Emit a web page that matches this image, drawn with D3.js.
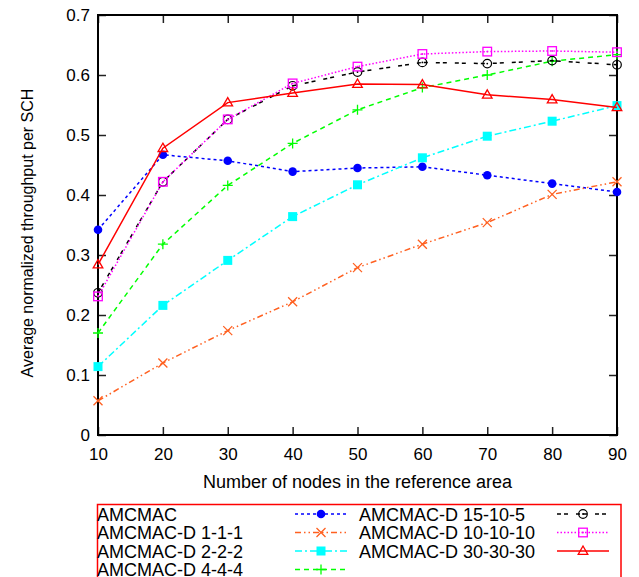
<!DOCTYPE html>
<html>
<head>
<meta charset="utf-8">
<script src="https://cdn.jsdelivr.net/npm/d3@7"></script>
<style>
  body { margin: 0; background: #fff; }
  text { font-family: "Liberation Sans", Arial, Helvetica, sans-serif; fill: #000; }
</style>
</head>
<body>
<div id="chart"></div>
<script>
// number of nodes (x values)
var nodes = [10, 20, 30, 40, 50, 60, 70, 80, 90];

// average normalized throughput per SCH
var amcmac     = [0.342, 0.467, 0.457, 0.439, 0.445, 0.447, 0.433, 0.419, 0.405];
var amcmacD111 = [0.057, 0.120, 0.174, 0.222, 0.279, 0.318, 0.354, 0.401, 0.422];
var amcmacD222 = [0.114, 0.216, 0.291, 0.364, 0.417, 0.462, 0.498, 0.523, 0.549];
var amcmacD444 = [0.170, 0.318, 0.416, 0.486, 0.542, 0.579, 0.600, 0.623, 0.634];
var amcmacD15105  = [0.237, 0.422, 0.526, 0.582, 0.605, 0.621, 0.619, 0.624, 0.617];
var amcmacD101010 = [0.231, 0.422, 0.526, 0.586, 0.614, 0.635, 0.639, 0.640, 0.638];
var amcmacD303030 = [0.284, 0.478, 0.554, 0.570, 0.585, 0.584, 0.567, 0.559, 0.546];

var seriesNames = ["AMCMAC", "AMCMAC-D 1-1-1", "AMCMAC-D 2-2-2", "AMCMAC-D 4-4-4",
                   "AMCMAC-D 15-10-5", "AMCMAC-D 10-10-10", "AMCMAC-D 30-30-30"];
var yTicks = [0, 0.1, 0.2, 0.3, 0.4, 0.5, 0.6, 0.7];
var xTicks = [10, 20, 30, 40, 50, 60, 70, 80, 90];

const width = 639, height = 577;
const plot = {left: 98, right: 617, top: 15, bottom: 435};

// style for each series: colour, dash pattern, marker
var styles = [
  {color: "#0000ff", dash: "3,3",              mark: "dot"},
  {color: "#ff6020", dash: "6,3,1.5,3,1.5,3",  mark: "x"},
  {color: "#00ffff", dash: "7,3,2,3",          mark: "fsquare"},
  {color: "#00ff00", dash: "5,4",              mark: "plus"},
  {color: "#000000", dash: "4,3,4,8",          mark: "ocircle"},
  {color: "#ff00ff", dash: "1.5,2",            mark: "osquare"},
  {color: "#ff0000", dash: null,               mark: "triangle"}
];

var allValues = [amcmac, amcmacD111, amcmacD222, amcmacD444, amcmacD15105, amcmacD101010, amcmacD303030];

var x = d3.scaleLinear().domain([10, 90]).range([plot.left, plot.right]);
var y = d3.scaleLinear().domain([0, 0.7]).range([plot.bottom, plot.top]);

var svg = d3.select("#chart").append("svg")
    .attr("width", width)
    .attr("height", height);

// axes with ticks pointing inwards (mirrored on top and right)
function styleAxis(g) {
  g.select(".domain").remove();
  g.selectAll(".tick line").attr("stroke", "#222").attr("stroke-width", 1.5);
  g.selectAll(".tick text").style("font-size", "17px").attr("fill", "#000");
}

svg.append("g")
    .attr("transform", "translate(0," + plot.bottom + ")")
    .call(d3.axisBottom(x).tickValues(xTicks).tickSize(-8).tickPadding(13))
    .call(styleAxis);

svg.append("g")
    .attr("transform", "translate(0," + plot.top + ")")
    .call(d3.axisTop(x).tickValues(xTicks).tickSize(-8).tickFormat(""))
    .call(styleAxis);

svg.append("g")
    .attr("transform", "translate(" + plot.left + ",0)")
    .call(d3.axisLeft(y).tickValues(yTicks).tickSize(-8).tickPadding(8).tickFormat(d3.format("")))
    .call(styleAxis);

svg.append("g")
    .attr("transform", "translate(" + plot.right + ",0)")
    .call(d3.axisRight(y).tickValues(yTicks).tickSize(-8).tickFormat(""))
    .call(styleAxis);

// border
svg.append("rect")
    .attr("x", plot.left)
    .attr("y", plot.top)
    .attr("width", plot.right - plot.left)
    .attr("height", plot.bottom - plot.top)
    .attr("fill", "none")
    .attr("stroke", "#000")
    .attr("stroke-width", 2);

// axis titles
svg.append("text")
    .attr("x", (plot.left + plot.right) / 2)
    .attr("y", 488)
    .attr("text-anchor", "middle")
    .style("font-size", "18px")
    .text("Number of nodes in the reference area");

svg.append("text")
    .attr("transform", "translate(33,233) rotate(-90)")
    .attr("text-anchor", "middle")
    .style("font-size", "16px")
    .text("Average normalized throughput per SCH");

// markers
function drawMarker(g, type, color, cx, cy) {
  if (type == "dot") {
    g.append("circle").attr("cx", cx).attr("cy", cy).attr("r", 4.3).attr("fill", color);
  } else if (type == "x") {
    g.append("path")
      .attr("d", "M" + (cx - 4.5) + "," + (cy - 4.5) + "L" + (cx + 4.5) + "," + (cy + 4.5) +
                 "M" + (cx - 4.5) + "," + (cy + 4.5) + "L" + (cx + 4.5) + "," + (cy - 4.5))
      .attr("stroke", color).attr("stroke-width", 1.3).attr("fill", "none");
  } else if (type == "fsquare") {
    g.append("rect").attr("x", cx - 4.5).attr("y", cy - 4.5).attr("width", 9).attr("height", 9)
      .attr("fill", color);
  } else if (type == "plus") {
    g.append("path")
      .attr("d", "M" + (cx - 5) + "," + cy + "L" + (cx + 5) + "," + cy +
                 "M" + cx + "," + (cy - 5) + "L" + cx + "," + (cy + 5))
      .attr("stroke", color).attr("stroke-width", 1.3).attr("fill", "none");
  } else if (type == "ocircle") {
    g.append("circle").attr("cx", cx).attr("cy", cy).attr("r", 4.3)
      .attr("fill", "none").attr("stroke", color).attr("stroke-width", 1.2);
    g.append("circle").attr("cx", cx).attr("cy", cy).attr("r", 0.9).attr("fill", color);
  } else if (type == "osquare") {
    g.append("rect").attr("x", cx - 4.3).attr("y", cy - 4.3).attr("width", 8.6).attr("height", 8.6)
      .attr("fill", "none").attr("stroke", color).attr("stroke-width", 1.3);
    g.append("circle").attr("cx", cx).attr("cy", cy).attr("r", 0.9).attr("fill", color);
  } else if (type == "triangle") {
    g.append("path")
      .attr("d", "M" + cx + "," + (cy - 5) + "L" + (cx + 4.8) + "," + (cy + 3.3) +
                 "L" + (cx - 4.8) + "," + (cy + 3.3) + "Z")
      .attr("fill", "none").attr("stroke", color).attr("stroke-width", 1.3);
  }
}

var line = d3.line()
    .x(function(d) { return x(d.n); })
    .y(function(d) { return y(d.v); });

for (var i = 0; i < allValues.length; i++) {
  var pts = nodes.map(function(n, j) { return {n: n, v: allValues[i][j]}; });
  var s = styles[i];
  var g = svg.append("g");
  g.append("path")
      .attr("d", line(pts))
      .attr("fill", "none")
      .attr("stroke", s.color)
      .attr("stroke-width", 1.5)
      .attr("stroke-dasharray", s.dash);
  for (var j = 0; j < pts.length; j++) {
    drawMarker(g, s.mark, s.color, x(pts[j].n), y(pts[j].v));
  }
}

// legend
var legend = svg.append("g");
legend.append("rect")
    .attr("x", 97.5)
    .attr("y", 504.5)
    .attr("width", 523.5)
    .attr("height", 90)
    .attr("fill", "none")
    .attr("stroke", "#ff0000")
    .attr("stroke-width", 1.5);

var rowY = [514, 532.5, 551, 569.5];
for (var i = 0; i < seriesNames.length; i++) {
  var col = i < 4 ? 0 : 1;
  var row = i < 4 ? i : i - 4;
  var tx = col == 0 ? 97 : 359;
  var lx0 = col == 0 ? 295 : 557;
  var lx1 = lx0 + 52;
  var ly = rowY[row];
  var s = styles[i];
  legend.append("text")
      .attr("x", tx)
      .attr("y", ly + 6.5)
      .style("font-size", "18px")
      .text(seriesNames[i]);
  legend.append("path")
      .attr("d", "M" + lx0 + "," + ly + "L" + lx1 + "," + ly)
      .attr("stroke", s.color)
      .attr("stroke-width", 1.5)
      .attr("stroke-dasharray", s.dash);
  drawMarker(legend, s.mark, s.color, (lx0 + lx1) / 2, ly);
}
</script>
</body>
</html>
